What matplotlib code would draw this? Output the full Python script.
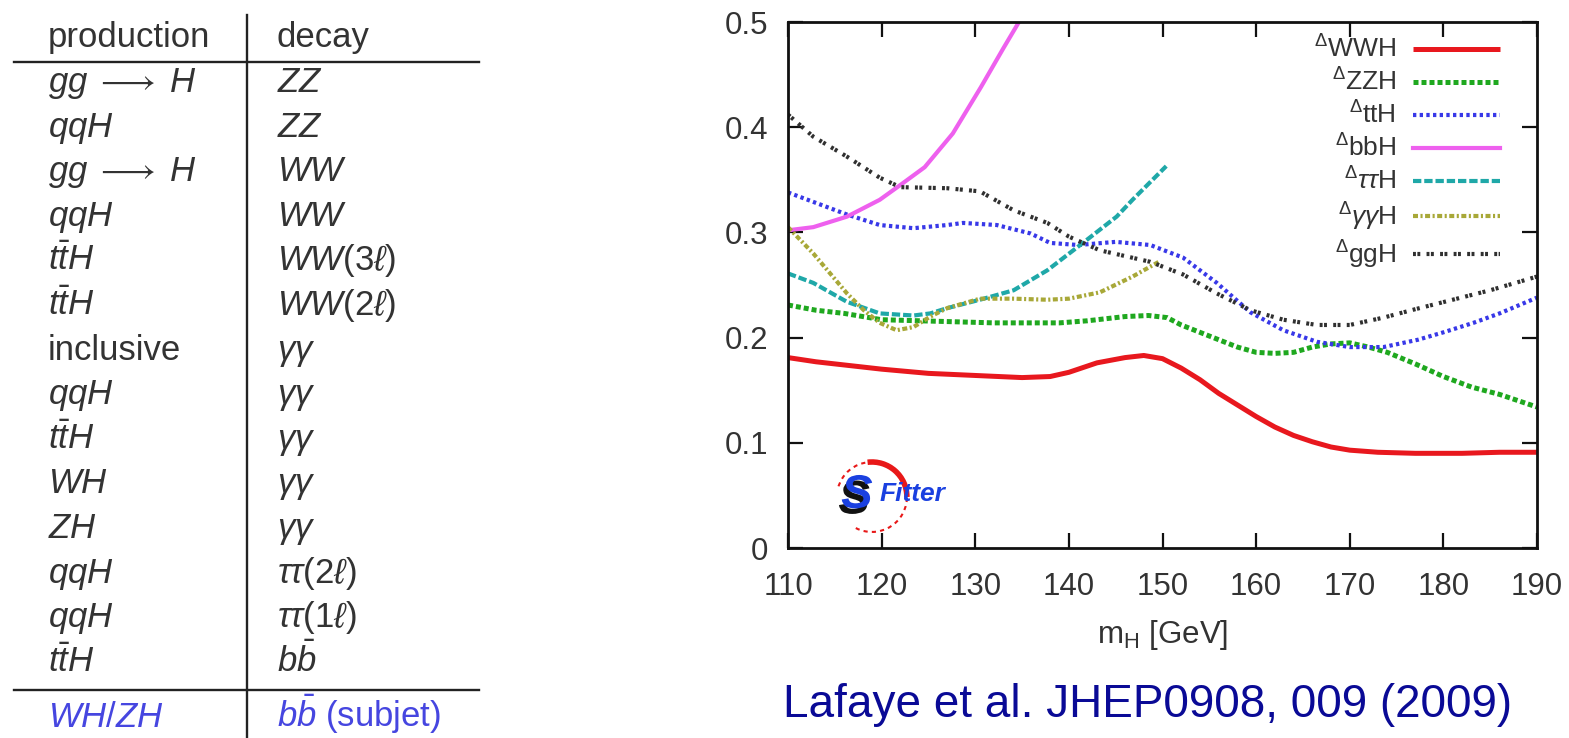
import numpy as np
import matplotlib
matplotlib.use('Agg')
import matplotlib.pyplot as plt
import matplotlib.patheffects as pe
from matplotlib.lines import Line2D
from matplotlib.patches import Arc

plt.rcParams['font.family'] = ['Liberation Sans', 'DejaVu Sans']
plt.rcParams['mathtext.fontset'] = 'custom'
plt.rcParams['mathtext.rm'] = 'Liberation Sans'
plt.rcParams['mathtext.it'] = 'Liberation Sans:italic'
plt.rcParams['mathtext.bf'] = 'Liberation Sans:bold'

# ---- table (left) ----
production = [r'$gg\;\longrightarrow\;H$', r'$qqH$', r'$gg\;\longrightarrow\;H$', r'$qqH$',
              r'$t\bar{t}H$', r'$t\bar{t}H$', 'inclusive', r'$qqH$', r'$t\bar{t}H$',
              r'$WH$', r'$ZH$', r'$qqH$', r'$qqH$', r'$t\bar{t}H$']
decay = [r'$ZZ$', r'$ZZ$', r'$WW$', r'$WW$', r'$WW(3\ell)$', r'$WW(2\ell)$',
         r'$\gamma\gamma$', r'$\gamma\gamma$', r'$\gamma\gamma$', r'$\gamma\gamma$',
         r'$\gamma\gamma$', r'$\tau\tau(2\ell)$', r'$\tau\tau(1\ell)$', r'$b\bar{b}$']
extra_production = r'$WH/ZH$'
extra_decay = r'$b\bar{b}$ (subjet)'

# ---- curves (right) ----
m_wwh = [110, 113, 116, 120, 125, 130, 135, 138, 140, 143, 146, 148, 150, 152, 154,
         156, 158, 160, 162, 164, 166, 168, 170, 173, 177, 182, 186, 190]
d_wwh = [0.181, 0.177, 0.174, 0.170, 0.166, 0.164, 0.162, 0.163, 0.167, 0.176, 0.181,
         0.183, 0.180, 0.171, 0.160, 0.147, 0.136, 0.125, 0.115, 0.107, 0.101, 0.096,
         0.093, 0.091, 0.090, 0.090, 0.091, 0.091]

m_zzh = [110, 113, 116, 120, 124, 128, 132, 136, 139, 142, 146, 148.5, 150.5, 152, 154,
         156, 158, 160, 162, 164, 166, 168, 170, 172, 174, 177, 180, 183, 186, 190]
d_zzh = [0.231, 0.226, 0.223, 0.217, 0.216, 0.215, 0.214, 0.214, 0.214, 0.216, 0.220,
         0.221, 0.219, 0.212, 0.205, 0.198, 0.191, 0.186, 0.185, 0.186, 0.191, 0.194,
         0.195, 0.191, 0.186, 0.175, 0.163, 0.153, 0.146, 0.134]

m_tth = [110, 112.7, 116.3, 119.8, 123.4, 127, 128.7, 132.3, 135.9, 138, 141, 145,
         148.7, 152.2, 155.8, 159.4, 162.9, 166.5, 170, 173.6, 177.3, 180, 183.2, 186, 190]
d_tth = [0.338, 0.329, 0.317, 0.307, 0.304, 0.307, 0.309, 0.307, 0.299, 0.290, 0.288,
         0.291, 0.288, 0.276, 0.252, 0.224, 0.207, 0.196, 0.191, 0.191, 0.198, 0.205,
         0.214, 0.223, 0.238]

m_bbh = [110, 112.7, 116.3, 119.8, 122.3, 124.6, 127.6, 130.6, 133, 135]
d_bbh = [0.302, 0.305, 0.315, 0.331, 0.347, 0.362, 0.394, 0.438, 0.475, 0.505]

m_tautau = [110, 112.7, 116.3, 119.8, 123.4, 125.2, 127, 130.5, 134.1, 137.7, 141.5,
            145.1, 146.8, 150.4]
d_tautau = [0.261, 0.252, 0.234, 0.223, 0.221, 0.223, 0.228, 0.236, 0.245, 0.264, 0.290,
            0.315, 0.331, 0.363]

m_gamgam = [110, 112.7, 114.5, 116.3, 118.1, 119.8, 121.6, 123.4, 125.2, 127, 130.5,
            134.1, 137.7, 140, 143.3, 146.8, 149.6]
d_gamgam = [0.305, 0.280, 0.261, 0.242, 0.226, 0.214, 0.207, 0.210, 0.220, 0.228, 0.237,
            0.237, 0.236, 0.237, 0.243, 0.258, 0.272]

m_ggh = [110, 112.7, 116.3, 119.8, 122, 127, 130.5, 134.1, 137.7, 140, 143.3, 148.7,
         152.2, 155.8, 159.4, 162.9, 166.5, 170, 173.6, 177, 181, 185, 190]
d_ggh = [0.412, 0.391, 0.372, 0.352, 0.343, 0.342, 0.339, 0.321, 0.309, 0.296, 0.283,
         0.272, 0.260, 0.242, 0.226, 0.217, 0.212, 0.212, 0.219, 0.227, 0.236, 0.245, 0.258]

xticks = [110, 120, 130, 140, 150, 160, 170, 180, 190]
yticks = [0, 0.1, 0.2, 0.3, 0.4, 0.5]
yticklabels = ['0', '0.1', '0.2', '0.3', '0.4', '0.5']

W, H = 1569, 738
fig = plt.figure(figsize=(W / 100, H / 100), dpi=100)


def fx(x):
    return x / W


def fy(y):
    return 1 - y / H


# table rules
fig.add_artist(Line2D([fx(14), fx(479)], [fy(62), fy(62)], color='#222222', lw=1.7))
fig.add_artist(Line2D([fx(14), fx(479)], [fy(690), fy(690)], color='#222222', lw=1.7))
fig.add_artist(Line2D([fx(247), fx(247)], [fy(15), fy(738)], color='#222222', lw=1.7))

tcol = '#333333'
fig.text(fx(48), fy(47), 'production', fontsize=25, color=tcol, va='baseline')
fig.text(fx(277), fy(47), 'decay', fontsize=25, color=tcol, va='baseline')
for i, (p, d) in enumerate(zip(production, decay)):
    yb = 92 + i * 44.6
    fig.text(fx(48), fy(yb), p, fontsize=25, color=tcol, va='baseline')
    fig.text(fx(277), fy(yb), d, fontsize=25, color=tcol, va='baseline')
bcol = '#4646e0'
fig.text(fx(48), fy(727), extra_production, fontsize=25, color=bcol, va='baseline')
fig.text(fx(277), fy(727), extra_decay, fontsize=25, color=bcol, va='baseline')

# ---- plot ----
ax = fig.add_axes([788 / W, 1 - 548 / H, (1537 - 788) / W, (548 - 22) / H])

ax.plot(m_wwh, d_wwh, color='#e8181e', lw=3.6, solid_capstyle='butt',
        label=r'$^{\Delta}$WWH')
ax.plot(m_zzh, d_zzh, color='#1fa81f', lw=3.6, dashes=(1.0, 0.6),
        label=r'$^{\Delta}$ZZH')
ax.plot(m_tth, d_tth, color='#3838e8', lw=3.0, dashes=(0.8, 0.8),
        label=r'$^{\Delta}$ttH')
ax.plot(m_bbh, d_bbh, color='#ee60ee', lw=3.0,
        label=r'$^{\Delta}$bbH')
ax.plot(m_tautau, d_tautau, color='#1fa8a8', lw=3.0, dashes=(2.0, 0.7),
        label=r'$^{\Delta}\tau\tau$H')
ax.plot(m_gamgam, d_gamgam, color='#a8a838', lw=3.0, dashes=(1.2, 0.6, 0.5, 0.6),
        label=r'$^{\Delta}\gamma\gamma$H')
ax.plot(m_ggh, d_ggh, color='#303030', lw=3.0, dashes=(0.7, 0.35, 0.7, 1.5),
        label=r'$^{\Delta}$ggH')

ax.set_xlim(110, 190)
ax.set_ylim(0, 0.5)
ax.set_xticks(xticks)
ax.set_yticks(yticks)
ax.set_yticklabels(yticklabels)
ax.tick_params(direction='in', length=11, width=1.6, top=True, right=True,
               labelsize=22.5, labelcolor='#333333', color='#111111')
ax.tick_params(axis='x', pad=17)
ax.tick_params(axis='y', pad=14)
for s in ax.spines.values():
    s.set_linewidth(2.0)
    s.set_color('#111111')
ax.set_xlabel(r'm$_{\rm H}$ [GeV]', fontsize=22.5, color='#333333', labelpad=12)

leg = ax.legend(loc='upper right', bbox_to_anchor=(0.951, 0.974), frameon=False,
                markerfirst=False, fontsize=19, handlelength=3.3, handletextpad=0.65,
                labelspacing=0.22, borderpad=0, borderaxespad=0)
for t in leg.get_texts():
    t.set_color('#333333')

# SFitter logo
ax.add_patch(Arc((0.112, 0.097), 0.0935, 0.133, theta1=-110, theta2=160,
                 transform=ax.transAxes, color='#e81818', lw=1.5, ls=(0, (2, 2))))
ax.add_patch(Arc((0.112, 0.097), 0.0935, 0.133, theta1=0, theta2=95,
                 transform=ax.transAxes, color='#e81818', lw=4))
ax.text(0.092, 0.099, 'S', transform=ax.transAxes, fontsize=34, fontweight='bold',
        fontstyle='italic', color='#1a40e0', ha='center', va='center',
        path_effects=[pe.SimplePatchShadow(offset=(-2, -4), shadow_rgbFace='#111111',
                                           alpha=1.0), pe.Normal()])
ax.text(0.122, 0.102, 'Fitter', transform=ax.transAxes, fontsize=19, fontweight='bold',
        fontstyle='italic', color='#1a40e0', ha='left', va='center')

# citation
fig.text(fx(783), fy(717), 'Lafaye et al. JHEP0908, 009 (2009)', fontsize=33,
         color='#0a0a96', va='baseline')

fig.savefig('out.png', dpi=100)
